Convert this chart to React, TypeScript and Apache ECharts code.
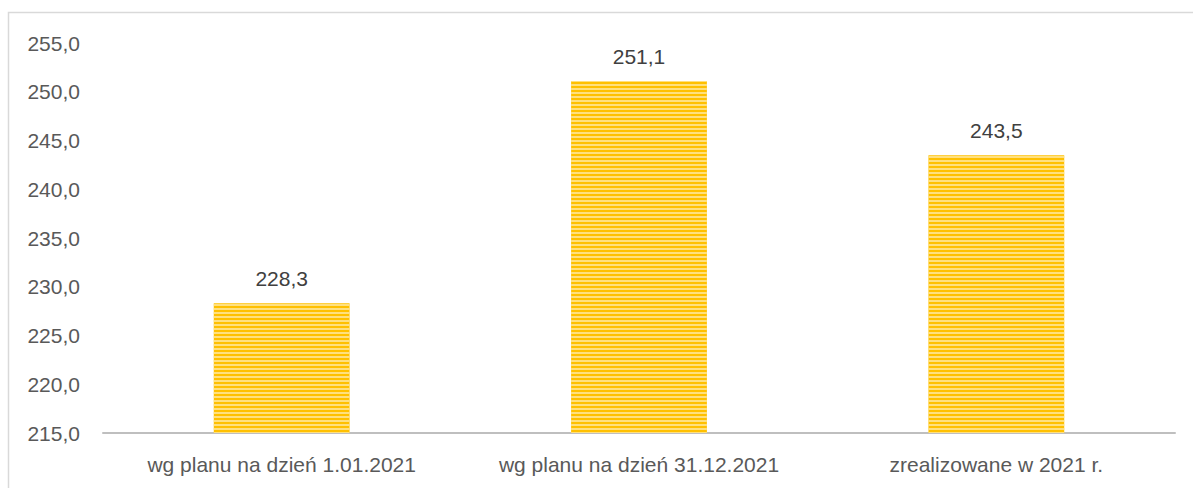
import React, { useEffect, useRef } from "react";
import * as echarts from "echarts";

const categories = ["wg planu na dzień 1.01.2021", "wg planu na dzień 31.12.2021", "zrealizowane w 2021 r."];
const values = [228.3, 251.1, 243.5];
const yMin = 215;
const yMax = 255;
const yStep = 5;

const fmt = (v: number) => v.toFixed(1).replace(".", ",");
const FONT = "Liberation Sans";

export default function App() {
  const ref = useRef<HTMLDivElement>(null);
  useEffect(() => {
    if (!ref.current) return;
    const chart = echarts.init(ref.current, undefined, { renderer: "svg" });
    chart.setOption({
      animation: false,
      backgroundColor: "#ffffff",
      grid: { left: 103, right: 18, top: 43, bottom: 55, containLabel: false },
      graphic: [
        {
          type: "rect",
          shape: { x: 8.5, y: 12.5, width: 1300, height: 600 },
          style: { fill: "none", stroke: "#d9d9d9", lineWidth: 1.5 },
          silent: true,
          z: -1,
        },
      ],
      xAxis: {
        type: "category",
        data: categories,
        axisLine: { lineStyle: { color: "#bfbfbf", width: 2 } },
        axisTick: { show: false },
        axisLabel: { color: "#595959", fontSize: 21, fontFamily: FONT, margin: 21, interval: 0 },
      },
      yAxis: {
        type: "value",
        min: yMin,
        max: yMax,
        interval: yStep,
        axisLine: { show: false },
        axisTick: { show: false },
        splitLine: { show: false },
        axisLabel: {
          color: "#595959",
          fontSize: 21,
          fontFamily: FONT,
          margin: 23,
          formatter: (v: number) => fmt(v),
        },
      },
      series: [
        {
          type: "bar",
          data: values,
          barWidth: "38%",
          itemStyle: {
            color: "#ffc000",
            decal: {
              symbol: "rect",
              symbolSize: 1,
              dashArrayX: [1, 0],
              dashArrayY: [2, 2],
              rotation: 0,
              color: "rgba(255,228,140,0.9)",
            },
          },
          label: {
            show: true,
            position: "top",
            distance: 14,
            color: "#404040",
            fontSize: 21,
            fontFamily: FONT,
            formatter: (p: any) => fmt(p.value),
          },
        },
      ],
    });
    return () => chart.dispose();
  }, []);
  return (
    <div
      ref={ref}
      style={{ position: "fixed", left: 0, top: 0, width: 1193, height: 488 }}
    />
  );
}
